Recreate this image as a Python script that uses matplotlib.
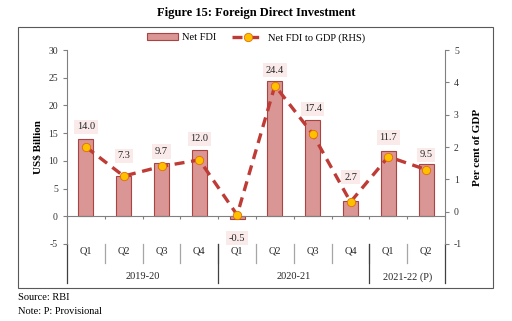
import matplotlib
matplotlib.use("Agg")
from matplotlib import pyplot as plt
from matplotlib.patches import Rectangle
import numpy as np

# dados
quarters = ['Q1', 'Q2', 'Q3', 'Q4', 'Q1', 'Q2', 'Q3', 'Q4', 'Q1', 'Q2']
years = ['2019-20', '2020-21', '2021-22 (P)']
year_size = [4, 4, 2]
net_fdi = [14.0, 7.3, 9.7, 12.0, -0.5, 24.4, 17.4, 2.7, 11.7, 9.5]
fdi_gdp = [2.0, 1.1, 1.4, 1.6, -0.1, 3.9, 2.4, 0.3, 1.7, 1.3]

# deslocamento (pixels) de cada etiqueta em relação à ponta da barra
label_off = [12, 20, 11, 11, -19, 11, 11, 24, 14, 9]

plt.rcParams['font.family'] = ['Liberation Serif', 'DejaVu Serif']
plt.rcParams['axes.unicode_minus'] = False

bar_face = '#D99694'
bar_edge = '#A94442'
line_col = '#BE3B36'
gray = '#808080'

fig = plt.figure(figsize=(5.12, 3.21), dpi=100)
ax = fig.add_axes([0.1309, 0.2399, 0.7383, 0.6043])
ax2 = ax.twinx()

x = np.arange(len(quarters))
bars = ax.bar(x, net_fdi, width=0.4, color=bar_face, edgecolor=bar_edge,
              linewidth=0.8, label='Net FDI', zorder=2)
ax2.plot(x, fdi_gdp, color=line_col, linewidth=2.4, dashes=(3, 2),
         marker='o', markersize=6, markerfacecolor='#FFC000',
         markeredgecolor='#E36C0A', markeredgewidth=0.6,
         label='Net FDI to GDP (RHS)', zorder=3)

ax.set_xlim(-0.5, len(quarters) - 0.5)
ax.set_ylim(-5, 30)
ax.set_yticks(range(-5, 31, 5))
ax2.set_ylim(-1, 5)
ax2.set_yticks(range(-1, 6))

# etiquetas dos valores
for xi, v, off in zip(x, net_fdi, label_off):
    ax.annotate(f'{v:.1f}', (xi, v), xytext=(0, off),
                textcoords='offset pixels', ha='center', va='center', fontsize=7.5,
                color='#262626',
                bbox=dict(boxstyle='square,pad=0.25', fc='#FAEAEA', ec='none'),
                zorder=5)

# eixos
for a in (ax, ax2):
    a.spines['top'].set_visible(False)
    a.spines['left'].set_color(gray)
    a.spines['right'].set_color(gray)
    a.tick_params(axis='y', labelsize=7, colors='#333333', length=3, width=0.8)
    a.tick_params(axis='y', color=gray)
ax2.spines['bottom'].set_visible(False)
ax.spines['right'].set_visible(False)
ax2.spines['left'].set_visible(False)
ax.spines['bottom'].set_position(('data', 0))
ax.spines['bottom'].set_color(gray)
ax.set_xticks(np.arange(-0.5, len(quarters), 1.0))
ax.set_xticklabels([])
ax.tick_params(axis='x', length=2.5, color=gray, direction='out')
ax2.set_zorder(ax.get_zorder() + 1)
ax2.patch.set_visible(False)

ax.set_ylabel('US$ Billion', fontsize=8, fontweight='bold', labelpad=4)
ax2.set_ylabel('Per cent of GDP', fontsize=8, fontweight='bold', labelpad=8)

# rótulos de categoria
tr = ax.get_xaxis_transform()
for xi, q in zip(x, quarters):
    ax.text(xi, -0.035, q, transform=tr, ha='center', va='center', fontsize=7.5,
            color='#262626')
for b in range(1, len(quarters)):
    ax.plot([b - 0.5, b - 0.5], [0, -0.1], transform=tr, color='#A6A6A6',
            linewidth=0.9, clip_on=False)
start = 0
bounds = [-0.5]
for yname, n in zip(years, year_size):
    ax.text(start + (n - 1) / 2, -0.17, yname, transform=tr, ha='center',
            va='center', fontsize=7.5, color='#262626')
    start += n
    bounds.append(start - 0.5)
for bx in bounds:
    ax.plot([bx, bx], [0, -0.2], transform=tr, color='#404040', linewidth=0.9,
            clip_on=False)

# legenda
h1, l1 = ax.get_legend_handles_labels()
h2, l2 = ax2.get_legend_handles_labels()
fig.legend(h1 + h2, l1 + l2, loc='center', bbox_to_anchor=(0.5, 0.882), ncol=2,
           frameon=False, fontsize=7.5, handlelength=3, handleheight=0.6,
           columnspacing=1.5, handletextpad=0.4)

# moldura e textos
fig.patches.append(Rectangle((0.0352, 0.1028), 0.9277, 0.813, transform=fig.transFigure,
                             fill=False, edgecolor='#595959', linewidth=0.8))
fig.text(0.5, 0.96, 'Figure 15: Foreign Direct Investment', ha='center', va='center',
         fontsize=9, fontweight='bold')
fig.text(0.035, 0.072, 'Source: RBI', ha='left', va='center', fontsize=7.5)
fig.text(0.035, 0.031, 'Note: P: Provisional', ha='left', va='center', fontsize=7.5)

fig.savefig('out.png', dpi=100)
